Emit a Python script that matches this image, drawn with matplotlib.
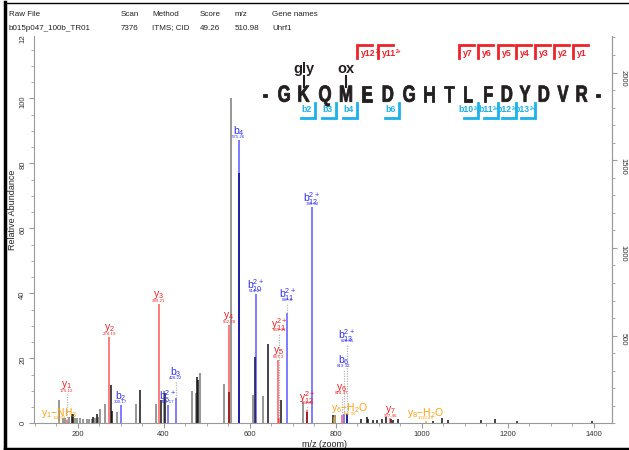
import re
import matplotlib
matplotlib.use('Agg')
from matplotlib import pyplot as plt
from matplotlib.patches import Rectangle, PathPatch
from matplotlib.ticker import MultipleLocator
from matplotlib.textpath import TextPath
from matplotlib.font_manager import FontProperties
import matplotlib.transforms as mtrans

# ---- data ----
header_cols = ['Raw File', 'Scan', 'Method', 'Score', 'm/z', 'Gene names']
header_vals = ['b015p047_100b_TR01', '7376', 'ITMS; CID', '49.26', '510.98', 'Uhrf1']

peptide = 'GKQMEDGHTLFDYDVR'
mods = {2: 'gly', 4: 'ox'}          # 1-based residue -> modification
b_seen = [2, 3, 4, 6, 10, 11, 12, 13]
b_charge = {10: 2, 11: 2, 12: 2, 13: 2}
y_seen = [12, 11, 7, 6, 5, 4, 3, 2, 1]
y_charge = {12: 2, 11: 2}

# unannotated peaks, relative abundance (%)
gray_mz = [157.1, 167.0, 170.9, 181.0, 194.2, 198.1, 205.8, 213.5, 221.4, 227.4,
           233.0, 240.7, 248.4, 252.3, 264.0, 291.2, 336.0, 382.6, 401.2, 465.6,
           474.9, 484.9, 541.4, 556.3, 607.4, 632.1, 725.1, 798.8]
gray_int = [7.1, 1.5, 1.5, 2.0, 1.5, 1.5, 1.5, 1.2, 1.3, 1.2,
            1.4, 1.5, 2.0, 4.3, 5.9, 3.4, 5.9, 5.9, 9.8, 9.8,
            9.2, 15.5, 12.0, 100.0, 8.6, 8.3, 6.5, 2.5]
black_mz = [186.5, 188.8, 236.7, 244.7, 278.6, 281.0, 345.3, 393.5, 403.5, 477.2,
            481.0, 553.2, 576.5, 612.8, 643.7, 672.6, 734.4, 793.5, 827.5, 858.6,
            874.0, 876.3, 886.5, 895.8, 907.4, 917.4, 929.0, 933.0, 946.0, 1026.7,
            1046.9, 1062.3, 1138.4, 1171.0, 1221.4, 1396.5]
black_int = [2.8, 3.0, 2.0, 3.0, 11.7, 3.7, 10.2, 7.1, 9.2, 14.3,
             13.3, 9.5, 77.0, 20.4, 24.5, 7.3, 3.5, 2.5, 3.0, 1.4,
             1.8, 1.2, 1.1, 1.1, 1.4, 1.8, 1.2, 1.0, 1.2, 0.8,
             1.5, 0.9, 0.9, 1.2, 0.8, 0.8]

# annotated fragment peaks
ann_ion = ['y1-NH3', 'y1', 'y2', 'b2', 'y3', 'b6^2+', 'b3', 'y4', 'b4', 'b10^2+',
           'y5', 'y11^2+', 'b11^2+', 'y12^2+', 'b12^2+', 'y6-H2O', 'y6', 'b6',
           'b13^2+', 'y7', 'y8-H2O']
ann_mz = [158.09, 175.12, 274.19, 300.17, 389.21, 410.17, 428.22, 552.28, 575.26, 614.27,
          667.30, 669.31, 687.80, 733.83, 745.32, 796.36, 814.37, 819.33,
          826.85, 927.46, 1010.49]
ann_int = [0.8, 1.0, 26.5, 5.6, 36.7, 5.5, 7.7, 30.2, 87.2, 39.8,
           19.5, 1.5, 34.0, 4.1, 66.5, 2.0, 2.5, 2.8,
           3.0, 1.6, 0.8]

# ---- label placement (layout only) ----
lab_h = [1.6, 10.0, None, None, None, None, 14.0, None, None, None,
         None, 28.7, 38.0, 6.3, None, 2.9, 9.2, 17.6,
         25.3, 2.3, 1.5]
lab_dx = {'y6-H2O': 37}
res_x = [284, 304, 325, 346, 367, 388, 409, 429, 449, 468, 488, 507, 525, 544, 563, 582]

W, H = 629, 450
plt.rcParams['mathtext.default'] = 'regular'
plt.rcParams['font.family'] = ['Liberation Sans', 'DejaVu Sans']

fig = plt.figure(figsize=(W / 100, H / 100), dpi=100)
ax = fig.add_axes([34 / W, 1 - 423.3 / H, (612 - 34) / W, (423.3 - 28) / H])
ytop = (423.3 - 28) / 3.25
ax.set_xlim(98.8, 1443)
ax.set_ylim(0, ytop)

ax.vlines(gray_mz, 0, gray_int, colors='#7a7a7a', lw=1.1)
ax.vlines(black_mz, 0, black_int, colors='#111111', lw=1.1)

col_line = {'y': '#ff0000', 'b': '#0000ff', 'n': '#ffa500'}
col_text = {'y': '#f02020', 'b': '#3030f0', 'n': '#ffa010'}


def ion_label(ion):
    kind, num, chg, loss = re.match(r'([by])(\d+)(\^2\+)?(?:-(NH3|H2O))?$', ion).groups()
    s = kind + '_{' + num + '}'
    if chg:
        s += '^{2+}'
    if loss:
        s += '{-}' + {'NH3': 'NH_{3}', 'H2O': 'H_{2}O'}[loss]
    return '$' + s + '$', ('n' if loss else kind)


for ion, mz, h, lh in zip(ann_ion, ann_mz, ann_int, lab_h):
    lab, k = ion_label(ion)
    ax.vlines(mz, 0, h, colors=col_line[k], lw=1.2, alpha=0.6 if k != 'n' else 0.8)
    if lh is None:
        lh = h + 1.0
    dx = lab_dx.get(ion, 0)
    if dx == 0 and lh - 1.0 > h + 0.3:
        ax.vlines(mz, h, lh - 1.0, colors='#b5b5b5', lw=0.9, linestyles=(0, (1, 1)))
    txt = '%.2f' % mz
    txt = txt.rstrip('0').rstrip('.')
    ax.text(mz + dx, lh, txt, fontsize=3.2, color=col_text[k], ha='center', va='center')
    ax.text(mz + dx, lh + 1.7, lab, fontsize=7.5, color=col_text[k], ha='center', va='center')

# axes styling
ax.spines['top'].set_visible(False)
for s in ['left', 'bottom', 'right']:
    ax.spines[s].set_color('#9a9a9a')
ax.xaxis.set_major_locator(MultipleLocator(200))
ax.xaxis.set_minor_locator(MultipleLocator(50))
ax.yaxis.set_major_locator(MultipleLocator(20))
ax.yaxis.set_minor_locator(MultipleLocator(5))
ax.tick_params(which='both', direction='out', color='#9a9a9a', labelsize=5.5, labelcolor='#333333', pad=2)
ax.tick_params(which='major', length=3.5)
ax.tick_params(which='minor', length=2)
ax.tick_params(axis='y', labelrotation=90)
ax.set_ylabel('Relative Abundance', fontsize=6.5, color='#222222')
ax.yaxis.set_label_coords((17 - 34) / 578, 0.54)
ax.set_xlabel('m/z (zoom)', fontsize=6.5, color='#222222')
ax.xaxis.set_label_coords(0.503, (423.3 - 440) / 395.3)

ax2 = ax.twinx()
ax2.set_ylim(0, ytop * 18.53)
ax2.set_yticks([500, 1000, 1500, 2000])
ax2.yaxis.set_minor_locator(MultipleLocator(100))
ax2.tick_params(which='both', direction='out', color='#9a9a9a', labelsize=5.5, labelcolor='#333333', pad=2)
ax2.tick_params(which='major', length=3.5)
ax2.tick_params(which='minor', length=2)
ax2.tick_params(axis='y', labelrotation=-90)
for s in ['top', 'left', 'bottom']:
    ax2.spines[s].set_visible(False)
ax2.spines['right'].set_color('#9a9a9a')

# ---- overlay in pixel coordinates ----
ov = fig.add_axes([0, 0, 1, 1], zorder=10)
ov.set_xlim(0, W)
ov.set_ylim(H, 0)
ov.axis('off')
ov.patch.set_alpha(0)

ov.add_patch(Rectangle((6, 4), W, 32, facecolor='white', edgecolor='none'))
ov.plot([5, 5], [2, H], color='black', lw=2.5)
ov.plot([5, W], [3, 3], color='black', lw=1)
ov.plot([5, W], [448.5, 448.5], color='black', lw=2.5)

hx = [9, 121, 152, 200, 235, 272]
for x, c, v in zip(hx, header_cols, header_vals):
    ov.text(x, 15, c, fontsize=5.8, color='#222222', va='center', ha='left')
    ov.text(x, 28, v, fontsize=5.8, color='#222222', va='center', ha='left')

ink = '#231f20'
red = '#ee2229'
cyan = '#1ab2ea'

# condensed bold residue letters
fp = FontProperties(family='Liberation Sans', weight='bold')
for x, aa in zip([265] + res_x + [598], '-' + peptide + '-'):
    tp = TextPath((0, 0), aa, size=23.3, prop=fp)
    ext = tp.get_extents()
    tr = mtrans.Affine2D().translate(-(ext.x0 + ext.x1) / 2, 0).scale(0.72, -1).translate(x, 101.7)
    ov.add_patch(PathPatch(tr.transform_path(tp), facecolor=ink, edgecolor=ink, lw=0.6))

for pos, name in mods.items():
    x = res_x[pos - 1]
    ov.text(x, 73, name, fontsize=10.5, fontweight='bold', color=ink, ha='center', va='baseline')
    ov.plot([x, x], [76, 87], color=ink, lw=1.5)

L = len(peptide)
fig.canvas.draw()
for n in y_seen:
    xc = (res_x[L - n - 1] + res_x[L - n]) / 2
    ov.plot([xc, xc, xc + 15], [58, 45, 45], color=red, lw=2, solid_joinstyle='miter')
    t = ov.text(xc + 4, 53.5, 'y%d' % n, fontsize=6.3, fontweight='bold', color=red, ha='left', va='center')
    if y_charge.get(n):
        bb = t.get_window_extent(renderer=fig.canvas.get_renderer()).transformed(ov.transData.inverted())
        ov.text(bb.x1 + 0.3, 51.5, '2+', fontsize=3.6, fontweight='bold', color=red, ha='left', va='center')
for n in b_seen:
    xc = (res_x[n - 1] + res_x[n]) / 2
    ov.plot([xc - 14, xc, xc], [117.5, 117.5, 103], color=cyan, lw=2, solid_joinstyle='miter')
    if b_charge.get(n):
        ov.text(xc - 4.5, 110, 'b%d' % n, fontsize=6.3, fontweight='bold', color=cyan, ha='right', va='center')
        ov.text(xc - 4.5, 108, '2+', fontsize=3.6, fontweight='bold', color=cyan, ha='left', va='center')
    else:
        ov.text(xc - 3, 110, 'b%d' % n, fontsize=6.3, fontweight='bold', color=cyan, ha='right', va='center')

fig.savefig('out.png', dpi=100)
